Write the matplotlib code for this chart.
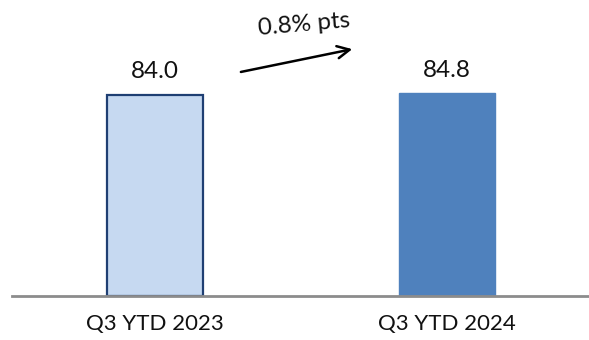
import matplotlib.pyplot as plt

# chart data
categories = ['Q3 YTD 2023', 'Q3 YTD 2024']
values = [84.0, 84.8]
labels = ['84.0', '84.8']
change_text = '0.8% pts'

plt.rcParams['font.family'] = ['Lato', 'DejaVu Sans']

fig = plt.figure(figsize=(5.89, 3.40), dpi=100)
ax = fig.add_axes([0.02, 0.1294, 0.98, 0.8706])

x = list(range(len(categories)))
ax.bar(x[0], values[0], width=0.33, color='#c6d9f1', edgecolor='#1f3f73', linewidth=1.6)
ax.bar(x[1], values[1], width=0.33, color='#4f81bd', edgecolor='#4f81bd', linewidth=1.0)

for xi, v, lab in zip(x, values, labels):
    ax.annotate(lab, (xi, v), xytext=(0, 9), textcoords='offset points',
                ha='center', va='bottom', fontsize=17.5, color='#111111')

ax.set_xlim(-0.49, 1.486)
ax.set_ylim(0, 123.7)

# change arrow between the bars
ax.annotate('', xy=(0.685, 103.4), xytext=(0.285, 93.4),
            arrowprops=dict(arrowstyle='->', color='black', lw=1.8,
                            mutation_scale=22))
ax.text(0.51, 113.5, change_text, ha='center', va='center', fontsize=17.5,
        rotation=5, color='#111111')

ax.set_xticks(x)
ax.set_xticklabels(categories, fontsize=16, color='#111111')
ax.tick_params(axis='x', length=0, pad=13)
ax.set_yticks([])
for s in ['top', 'right', 'left']:
    ax.spines[s].set_visible(False)
ax.spines['bottom'].set_color('#8c8c8c')
ax.spines['bottom'].set_linewidth(2)

fig.savefig('out.png', dpi=100)
